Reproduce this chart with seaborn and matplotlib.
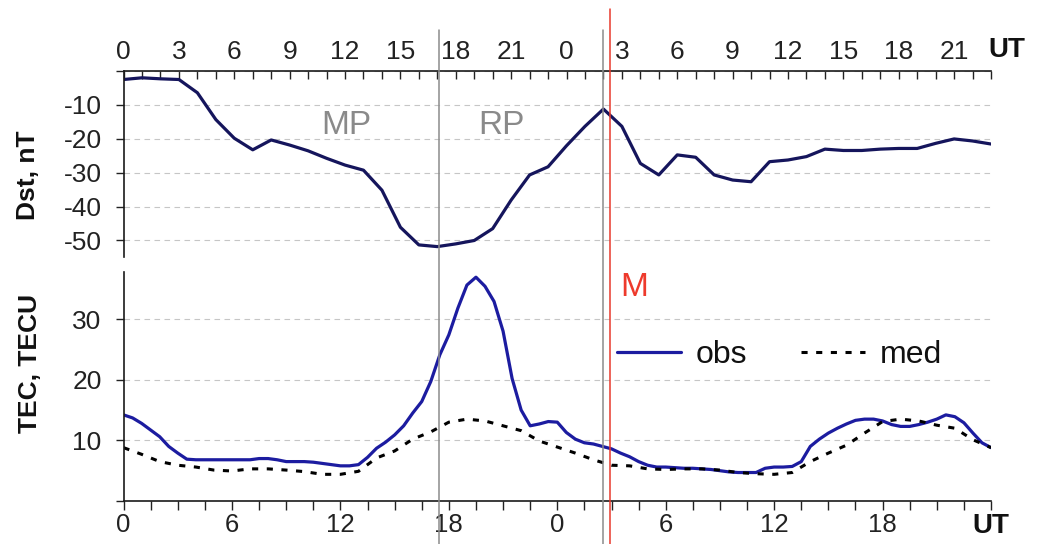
import matplotlib
matplotlib.use("Agg")
import matplotlib.pyplot as plt
import seaborn as sns

# ---- data -------------------------------------------------------------
# Dst index, hourly over two days (positions 0..47 on the category axis)
dst_hour = list(range(48))
dst_nT = [-2.6, -2.1, -2.4, -2.6, -6.5, -14.4, -19.9, -23.3, -20.4, -21.9,
          -23.6, -25.8, -27.8, -29.3, -35.2, -46.1, -51.3, -51.8, -51.0, -50.0,
          -46.5, -38.1, -30.7, -28.3, -22.1, -16.4, -11.3, -16.4, -27.3, -30.7,
          -24.8, -25.5, -30.7, -32.2, -32.7, -26.8, -26.3, -25.3, -23.1, -23.5,
          -23.5, -23.1, -22.9, -22.9, -21.4, -20.1, -20.7, -21.6]

# Observed TEC, half-hourly, hours since 00 UT of day 1
tec_obs_hour = [0.5 * k for k in range(97)]
tec_obs = [14.2, 13.7, 12.8, 11.7, 10.6, 9.0, 7.9, 6.9, 6.8, 6.8,
           6.8, 6.8, 6.8, 6.8, 6.8, 7.0, 7.0, 6.8, 6.5, 6.5,
           6.5, 6.4, 6.2, 6.0, 5.8, 5.8, 6.0, 7.2, 8.7, 9.7,
           10.9, 12.4, 14.5, 16.4, 19.7, 24.1, 27.4, 31.8, 35.6, 36.9,
           35.4, 32.9, 28.0, 20.2, 15.0, 12.4, 12.7, 13.1, 13.0, 11.3,
           10.2, 9.6, 9.4, 9.0, 8.6, 7.9, 7.3, 6.5, 5.9, 5.6,
           5.6, 5.5, 5.4, 5.4, 5.3, 5.2, 5.0, 4.8, 4.7, 4.7,
           4.7, 5.4, 5.6, 5.6, 5.7, 6.5, 9.0, 10.2, 11.2, 12.0,
           12.7, 13.3, 13.5, 13.5, 13.2, 12.6, 12.3, 12.3, 12.6, 13.0,
           13.5, 14.2, 13.9, 12.9, 11.2, 9.6, 8.8]

# Quiet-time median TEC, hourly
tec_med_hour = list(range(49))
tec_med = [8.8, 7.7, 6.5, 5.9, 5.6, 5.1, 4.95, 5.3, 5.3, 5.1,
           4.85, 4.4, 4.4, 4.9, 7.1, 8.25, 10.2, 11.4, 13.0, 13.5,
           13.2, 12.4, 11.6, 9.9, 8.9, 7.9, 6.8, 5.9, 5.8, 5.3,
           5.2, 5.3, 5.3, 5.1, 4.7, 4.5, 4.4, 4.7, 6.5, 7.9,
           9.2, 11.2, 13.1, 13.5, 13.2, 12.5, 12.0, 10.1, 8.8]

# Storm phase boundaries (hours) and the M marker
phase_bounds = [17.45, 26.53]
m_time = 26.9

# Axis labels
top_tick_pos = list(range(0, 48, 3))
top_tick_lab = [str(h % 24) for h in top_tick_pos]
bot_tick_pos = [1.5 * k for k in range(33)]
bot_tick_lab = [("UT" if t == 48 else str(int(t) % 24)) if t % 6 == 0 else ""
                for t in bot_tick_pos]
dst_ticks = [-50, -40, -30, -20, -10, 0]
dst_tick_lab = ["-50", "-40", "-30", "-20", "-10", ""]
tec_ticks = [0, 10, 20, 30]
tec_tick_lab = ["", "10", "20", "30"]

# ---- style ------------------------------------------------------------
sns.set_theme(style="white")
plt.rcParams["font.family"] = ["Liberation Sans", "DejaVu Sans"]
plt.rcParams["axes.edgecolor"] = "#1a1a1a"
plt.rcParams["axes.linewidth"] = 1.2

DST_COL = "#15155c"
OBS_COL = "#1c1ca0"
GRID_KW = dict(color="#c6c6c6", linestyle=(0, (5, 4)), linewidth=0.8)
TICK_COL = "#222222"

fig = plt.figure(figsize=(10.4, 5.44), dpi=100)
ax_top = fig.add_axes([0.1188, 0.5267, 0.8341, 0.3434])
ax_bot = fig.add_axes([0.1188, 0.0790, 0.8341, 0.4204])

# ---- Dst panel --------------------------------------------------------
sns.lineplot(x=dst_hour, y=dst_nT, ax=ax_top, color=DST_COL, linewidth=2.3)
ax_top.set_xlim(0, 47)
ax_top.set_ylim(-55, 0)
ax_top.xaxis.tick_top()
ax_top.set_xticks(list(range(48)))
ax_top.set_xticklabels([top_tick_lab[top_tick_pos.index(i)] if i in top_tick_pos else ""
                        for i in range(48)])
ax_top.set_yticks(dst_ticks)
ax_top.set_yticklabels(dst_tick_lab)
ax_top.tick_params(axis="x", direction="in", length=5.5, width=1.0, pad=5,
                   labelsize=19, colors=TICK_COL, top=True, bottom=False)
ax_top.tick_params(axis="y", direction="out", length=5.8, width=1.0, pad=10,
                   labelsize=19, colors=TICK_COL, left=True)
for s in ("bottom", "right"):
    ax_top.spines[s].set_visible(False)
ax_top.yaxis.grid(True, **GRID_KW)
ax_top.set_axisbelow(True)
ax_top.text(-0.110, 0.44, "Dst, nT", transform=ax_top.transAxes, rotation=90,
            ha="center", va="center", fontsize=19, fontweight="bold", color="#111111")
ax_top.text(0.9965, 1.111, "UT", transform=ax_top.transAxes, ha="left", va="center",
            fontsize=20, fontweight="bold", color="#111111")
ax_top.text(12.06, -16.2, "MP", ha="center", va="center", fontsize=24, color="#8a8a8a")
ax_top.text(20.5, -16.0, "RP", ha="center", va="center", fontsize=24, color="#8a8a8a")

# ---- TEC panel --------------------------------------------------------
sns.lineplot(x=tec_obs_hour, y=tec_obs, ax=ax_bot, color=OBS_COL, linewidth=2.3,
             label="obs")
sns.lineplot(x=tec_med_hour, y=tec_med, ax=ax_bot, color="black", linewidth=2.2,
             linestyle=(0, (2.0, 2.8)), label="med")
ax_bot.set_xlim(0, 48)
ax_bot.set_ylim(0, 37.7)
ax_bot.set_xticks(bot_tick_pos)
ax_bot.set_xticklabels(bot_tick_lab)
ax_bot.set_yticks(tec_ticks)
ax_bot.set_yticklabels(tec_tick_lab)
ax_bot.tick_params(axis="x", direction="out", length=6.5, width=1.0, pad=2,
                   labelsize=18.5, colors=TICK_COL, bottom=True)
ax_bot.tick_params(axis="y", direction="out", length=5.8, width=1.0, pad=10,
                   labelsize=19, colors=TICK_COL, left=True)
for lab in ax_bot.get_xticklabels():
    if lab.get_text() == "UT":
        lab.set_fontweight("bold")
        lab.set_fontsize(20)
        lab.set_color("#111111")
for s in ("top", "right"):
    ax_bot.spines[s].set_visible(False)
ax_bot.yaxis.grid(True, **GRID_KW)
ax_bot.set_axisbelow(True)
ax_bot.text(-0.108, 0.60, "TEC, TECU", transform=ax_bot.transAxes, rotation=90,
            ha="center", va="center", fontsize=19, fontweight="bold", color="#111111")
ax_bot.text(28.25, 35.2, "M", ha="center", va="center", fontsize=24, color="#ee3a2c")

leg = ax_bot.legend(loc="center left", bbox_to_anchor=(0.569, 0.638), ncol=2,
                    frameon=False, fontsize=23, handlelength=2.0, handletextpad=0.45,
                    columnspacing=1.7, borderpad=0, borderaxespad=0)
for t in leg.get_texts():
    t.set_color("#111111")

# ---- phase boundaries spanning both panels ----------------------------
for x in phase_bounds:
    ax_bot.axvline(x, ymin=-0.19, ymax=2.06, color="#8c8c8c", linewidth=1.1,
                   clip_on=False, zorder=5)
ax_bot.axvline(m_time, ymin=-0.19, ymax=2.15, color="#e8392c", linewidth=1.1,
               clip_on=False, zorder=5)

fig.savefig("out.png", dpi=100)
